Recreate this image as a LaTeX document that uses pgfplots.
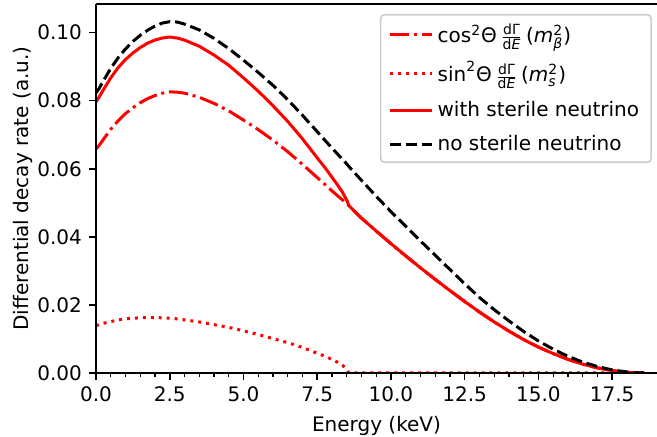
\documentclass[border=0pt]{standalone}
\usepackage{fontspec}
\setmainfont{DejaVu Sans}
\usepackage{amsmath}
\usepackage{pgfplots}
\usepackage{pgfplotstable}
\pgfplotsset{compat=1.18}

% E (keV), cos^2 part, sin^2 part, with sterile (sum), no sterile
\pgfplotstableread{
E     cos     sin     with    no
0     0.0658  0.0139  0.0797  0.0823
0.1   0.0668  0.0142  0.0810  0.0835
0.25  0.0686  0.0146  0.0832  0.0858
0.5   0.0716  0.0151  0.0867  0.0895
0.75  0.0741  0.0156  0.0897  0.0926
1.0   0.0762  0.0159  0.0921  0.0952
1.25  0.0779  0.0161  0.0940  0.0974
1.5   0.0794  0.0162  0.0956  0.0992
1.75  0.0806  0.0163  0.0969  0.1007
2.0   0.0815  0.0163  0.0978  0.1019
2.25  0.0822  0.0162  0.0984  0.1028
2.5   0.0826  0.0161  0.0987  0.1032
2.75  0.0825  0.0159  0.0984  0.1031
3.0   0.0822  0.0156  0.0978  0.1025
3.5   0.0810  0.0150  0.0960  0.1008
4.0   0.0792  0.0142  0.0934  0.0983
4.5   0.0770  0.0134  0.0904  0.0953
5.0   0.0743  0.0124  0.0867  0.0919
5.5   0.0715  0.0113  0.0828  0.0883
6.0   0.0684  0.0101  0.0785  0.0845
6.5   0.0650  0.0089  0.0739  0.0803
7.0   0.0613  0.0075  0.0688  0.0757
7.5   0.0574  0.0058  0.0632  0.0709
7.8   0.0551  0.0048  0.0599  0.0680
8.0   0.0535  0.0040  0.0575  0.0661
8.2   0.0520  0.0031  0.0551  0.0642
8.35  0.0509  0.0023  0.0532  0.0628
8.45  0.0501  0.0015  0.0516  0.0619
8.52  0.0496  0.0008  0.0504  0.0612
8.57  0.0492  0.0     0.0492  0.0607
9.0   0.0455  0       0.0455  0.0566
9.5   0.0417  0       0.0417  0.0519
10.0  0.0380  0       0.0380  0.0474
10.5  0.0344  0       0.0344  0.0431
11.0  0.0309  0       0.0309  0.0388
11.5  0.0275  0       0.0275  0.0346
12.0  0.0242  0       0.0242  0.0304
12.5  0.0210  0       0.0210  0.0262
13.0  0.0179  0       0.0179  0.0222
13.5  0.0150  0       0.0150  0.0186
14.0  0.0123  0       0.0123  0.0153
14.5  0.0098  0       0.0098  0.0122
15.0  0.0076  0       0.0076  0.0094
15.5  0.0057  0       0.0057  0.0070
16.0  0.0040  0       0.0040  0.0049
16.5  0.0026  0       0.0026  0.0032
17.0  0.0015  0       0.0015  0.0019
17.5  0.0007  0       0.0007  0.0009
18.0  0.0002  0       0.0002  0.0003
18.3  0.00005 0       0.00005 0.0001
18.6  0       0       0       0
}\spectrum

\begin{document}
\begin{tikzpicture}
\useasboundingbox (-48pt,-32pt) rectangle (280.5pt,186.5pt);
\begin{axis}[
    at={(0pt,0pt)}, anchor=south west,
    scale only axis,
    width=280.5pt, height=184.5pt,
    xmin=0, xmax=19.02,
    ymin=0, ymax=0.1084,
    axis x line=box, axis y line=left,
    axis line style={-, line width=0.8pt},
    axis on top,
    xtick={0,2.5,...,17.5},
    minor x tick num=4,
    ytick={0,0.02,0.04,0.06,0.08,0.10},
    xtick pos=bottom, ytick pos=left,
    tick align=outside,
    major tick length=3.5pt, minor tick length=2pt,
    tick style={black, line width=0.8pt},
    minor tick style={line width=0.6pt},
    scaled y ticks=false,
    xticklabel style={/pgf/number format/.cd, fixed, fixed zerofill, precision=1},
    yticklabel style={/pgf/number format/.cd, fixed, fixed zerofill, precision=2},
    /pgf/number format/assume math mode=true,
    tick label style={font=\fontsize{10}{12}\selectfont},
    label style={font=\fontsize{10}{12}\selectfont},
    xlabel={Energy (keV)},
    ylabel={Differential decay rate (a.u.)},
    ylabel shift=-4.5pt,
    legend image code/.code={\draw[#1] (0pt,0pt) -- (21pt,0pt);},
    legend style={at={(axis description cs:0.991,0.973)}, anchor=north east,
        draw=black!20, rounded corners=2pt, fill=white, fill opacity=0.8,
        text opacity=1, line width=0.8pt,
        font=\fontsize{10}{12}\selectfont,
        inner xsep=4pt, inner ysep=2.5pt, row sep=4pt,
        cells={anchor=west}},
    legend cell align=left,
]
\addplot[red, line width=1.5pt, dash pattern=on 9.6pt off 2.4pt on 1.5pt off 2.4pt]
    table[x=E, y=cos] {\spectrum};
\addlegendentry{$\text{cos}^{\text{2}}\text{Θ}\,\frac{\text{dΓ}}{\text{d}\textit{E}}\,\text{(}\textit{m}^{\text{2}}_{\textit{β}}\text{)}$}
\addplot[red, line width=1.5pt, dash pattern=on 1.5pt off 2.475pt]
    table[x=E, y=sin] {\spectrum};
\addlegendentry{$\text{sin}^{\text{2}}\text{Θ}\,\frac{\text{dΓ}}{\text{d}\textit{E}}\,\text{(}\textit{m}^{\text{2}}_{\textit{s}}\text{)}$}
\addplot[red, line width=1.5pt, line join=round]
    table[x=E, y=with] {\spectrum};
\addlegendentry{with sterile neutrino}
\addplot[black, line width=1.5pt, dash pattern=on 5.55pt off 2.4pt]
    table[x=E, y=no] {\spectrum};
\addlegendentry{no sterile neutrino}
\end{axis}
\end{tikzpicture}
\end{document}
